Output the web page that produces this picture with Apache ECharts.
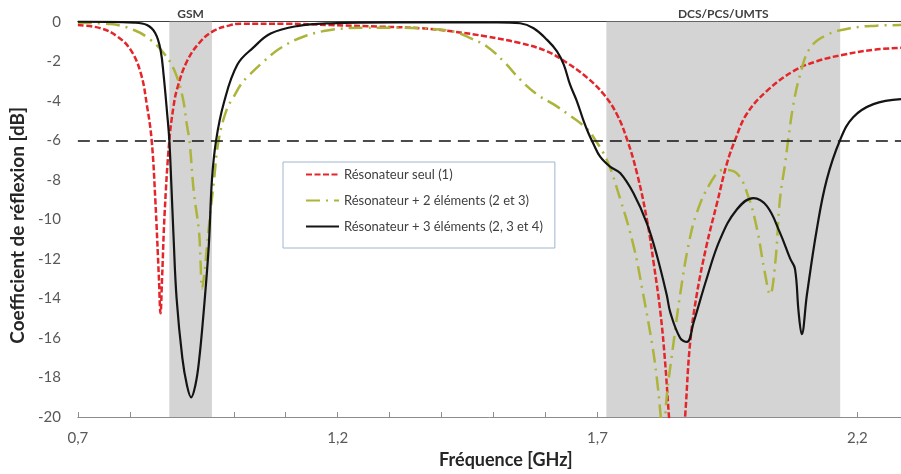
<!DOCTYPE html>
<html><head><meta charset="utf-8">
<script src="https://cdn.jsdelivr.net/npm/echarts@6/dist/echarts.min.js"></script>
<style>html,body{margin:0;padding:0;background:#fff}#c{width:901px;height:474px}</style>
</head><body><div id="c"></div>
<script>
const seriesNames = ['Résonateur seul (1)', 'Résonateur + 2 éléments (2 et 3)', 'Résonateur + 3 éléments (2, 3 et 4)'];

const redFreq = [0.700,0.744,0.776,0.801,0.821,0.833,0.842,0.849,0.856,0.859,0.862,0.867,0.876,0.884,0.891,0.910,0.936,0.962,0.990,1.013,1.100,1.186,1.280,1.359,1.423,1.487,1.551,1.603,1.641,1.680,1.712,1.737,1.757,1.776,1.795,1.808,1.821,1.830,1.837,1.845,1.853,1.861,1.869,1.878,1.891,1.910,1.930,1.949,1.965,1.987,2.026,2.077,2.122,2.173,2.231,2.284];
const redDb = [-0.17,-0.33,-0.75,-1.4,-2.6,-4.25,-6.0,-9.0,-13.0,-14.75,-13.0,-9.67,-6.0,-4.3,-3.4,-2.0,-1.0,-0.45,-0.2,-0.1,-0.1,-0.17,-0.25,-0.33,-0.5,-0.75,-1.08,-1.5,-2.08,-2.83,-3.67,-4.67,-5.97,-7.67,-10.0,-12.2,-14.7,-17.2,-19.8,-22.5,-25,-22.5,-19.8,-16.3,-13.8,-11.3,-9.17,-7.17,-5.97,-4.67,-3.5,-2.5,-2.0,-1.67,-1.42,-1.32];

const oliveFreq = [0.700,0.763,0.808,0.840,0.865,0.885,0.901,0.910,0.915,0.923,0.933,0.936,0.939,0.944,0.949,0.955,0.962,0.971,0.987,1.000,1.013,1.026,1.058,1.090,1.135,1.186,1.250,1.314,1.359,1.423,1.455,1.487,1.519,1.551,1.583,1.615,1.647,1.680,1.692,1.718,1.744,1.769,1.788,1.805,1.814,1.821,1.826,1.833,1.846,1.859,1.875,1.891,1.917,1.942,1.968,1.990,2.007,2.022,2.032,2.042,2.051,2.061,2.067,2.077,2.090,2.109,2.141,2.186,2.237,2.284];
const oliveDb = [-0.05,-0.12,-0.42,-0.92,-1.58,-2.42,-3.75,-5.25,-6.08,-8.58,-10.6,-12.1,-13.5,-12.6,-11.2,-9.67,-8.0,-5.97,-4.4,-3.8,-3.2,-2.8,-2.0,-1.33,-0.75,-0.42,-0.3,-0.3,-0.33,-0.5,-0.83,-1.25,-2.0,-2.92,-3.67,-4.17,-4.75,-5.42,-5.83,-7.0,-9.0,-11.3,-13.8,-16.3,-18.0,-19.8,-21.5,-19.0,-16.3,-13.8,-11.3,-9.67,-8.17,-7.5,-7.67,-8.83,-10.5,-12.7,-13.8,-12.2,-9.0,-7.17,-5.97,-4.17,-2.67,-1.33,-0.67,-0.33,-0.2,-0.17];

const blackFreq = [0.700,0.808,0.833,0.849,0.859,0.865,0.872,0.876,0.880,0.884,0.890,0.901,0.910,0.918,0.926,0.933,0.942,0.952,0.958,0.966,0.981,1.007,1.038,1.071,1.122,1.186,1.314,1.507,1.551,1.577,1.603,1.622,1.635,1.647,1.660,1.673,1.683,1.692,1.705,1.724,1.744,1.769,1.795,1.814,1.833,1.840,1.859,1.872,1.885,1.910,1.936,1.968,2.000,2.026,2.051,2.071,2.080,2.087,2.093,2.103,2.122,2.141,2.167,2.192,2.231,2.284];
const blackDb = [0,-0.05,-0.17,-0.58,-1.42,-2.7,-4.7,-6.0,-8.3,-10.8,-14.0,-17.0,-18.4,-19.0,-18.4,-17.2,-14.7,-11.3,-8.0,-6.0,-4.1,-2.17,-1.3,-0.6,-0.22,-0.08,-0.03,-0.03,-0.08,-0.33,-0.92,-1.5,-2.17,-3.17,-4.0,-5.0,-5.67,-6.17,-6.83,-7.33,-7.67,-8.67,-10.2,-11.8,-13.8,-14.7,-16.0,-16.2,-15.2,-13.0,-11.0,-9.5,-8.92,-9.33,-10.67,-12.0,-12.5,-14.7,-15.8,-13.8,-10.5,-8.0,-5.97,-4.83,-4.17,-3.92];

const bandNames = ['GSM', 'DCS/PCS/UMTS'];
const bandStart = [0.876, 1.717];
const bandEnd = [0.958, 2.167];
const thresholdDb = -6;
const xLabelTicks = [0.7, 1.2, 1.7, 2.2];

const zip = (xs, ys) => xs.map((x, i) => [x, ys[i]]);
const font = 'Lato, "Open Sans", sans-serif';

const chart = echarts.init(document.getElementById('c'), null, {renderer: 'canvas'});
chart.setOption({
  animation: false,
  grid: {left: 77.3, right: 0, top: 21.7, bottom: 52.3, containLabel: false},
  legend: {
    orient: 'vertical', left: 283, top: 162,
    itemWidth: 33, itemHeight: 14, itemGap: 13,
    padding: [6, 12, 15, 22],
    backgroundColor: '#fff', borderColor: '#9fb6cd', borderWidth: 1,
    itemStyle: {opacity: 0},
    textStyle: {fontFamily: font, fontSize: 13, color: '#404040'},
    data: seriesNames
  },
  xAxis: [{
    type: 'value', min: 0.7, max: 2.284, interval: 0.1,
    name: 'Fréquence [GHz]', nameLocation: 'middle', nameGap: 31,
    nameTextStyle: {fontFamily: font, fontSize: 18, fontWeight: 'bold', color: '#262626', padding: [0, 0, 0, 33]},
    axisLine: {show: true, onZero: false, lineStyle: {color: '#8c8c8c', width: 1}},
    axisTick: {show: true, inside: true, length: 5, lineStyle: {color: '#8c8c8c'}},
    splitLine: {show: false},
    axisLabel: {
      fontFamily: font, fontSize: 15, color: '#595959', margin: 14, showMaxLabel: false,
      formatter: v => xLabelTicks.some(t => Math.abs(t - v) < 1e-6) ? v.toFixed(1).replace('.', ',') : ''
    }
  }, {
    type: 'value', position: 'top', min: 0.7, max: 2.284,
    axisLine: {show: true, onZero: false, lineStyle: {color: '#404040', width: 1}},
    axisTick: {show: false}, axisLabel: {show: false}, splitLine: {show: false}
  }],
  yAxis: {
    type: 'value', min: -20, max: 0, interval: 2,
    name: 'Coefficient de réflexion [dB]', nameLocation: 'middle', nameRotate: 90, nameGap: 45,
    nameTextStyle: {fontFamily: font, fontSize: 19, fontWeight: 'bold', color: '#262626', padding: [0, 12, 0, 0]},
    axisLine: {show: false}, axisTick: {show: false}, splitLine: {show: false},
    axisLabel: {fontFamily: font, fontSize: 15, color: '#595959', margin: 17}
  },
  series: [{
    name: seriesNames[0], type: 'line', data: zip(redFreq, redDb), showSymbol: false, symbol: 'none',
    smooth: 0.4, clip: true, z: 3,
    lineStyle: {color: '#e3262a', width: 2.5, type: [6, 2.5]},
    itemStyle: {color: '#e3262a'},
    markArea: {
      silent: true,
      itemStyle: {color: '#d4d4d4'},
      label: {show: true, position: 'top', distance: 2, fontFamily: font, fontSize: 12, fontWeight: 'bold', color: '#404040'},
      data: bandNames.map((n, i) => [{name: n, xAxis: bandStart[i]}, {xAxis: bandEnd[i]}])
    },
    markLine: {
      silent: true, symbol: 'none', label: {show: false},
      lineStyle: {color: '#111', width: 1.5, type: [12, 7]},
      data: [{yAxis: thresholdDb}]
    }
  }, {
    name: seriesNames[1], type: 'line', data: zip(oliveFreq, oliveDb), showSymbol: false, symbol: 'none',
    smooth: 0.4, clip: true, z: 4,
    lineStyle: {color: '#adb43a', width: 2.5, type: [14, 6, 2, 6]},
    itemStyle: {color: '#adb43a'}
  }, {
    name: seriesNames[2], type: 'line', data: zip(blackFreq, blackDb), showSymbol: false, symbol: 'none',
    smooth: 0.4, clip: true, z: 5,
    lineStyle: {color: '#141414', width: 2.2},
    itemStyle: {color: '#141414'}
  }]
});
</script></body></html>
